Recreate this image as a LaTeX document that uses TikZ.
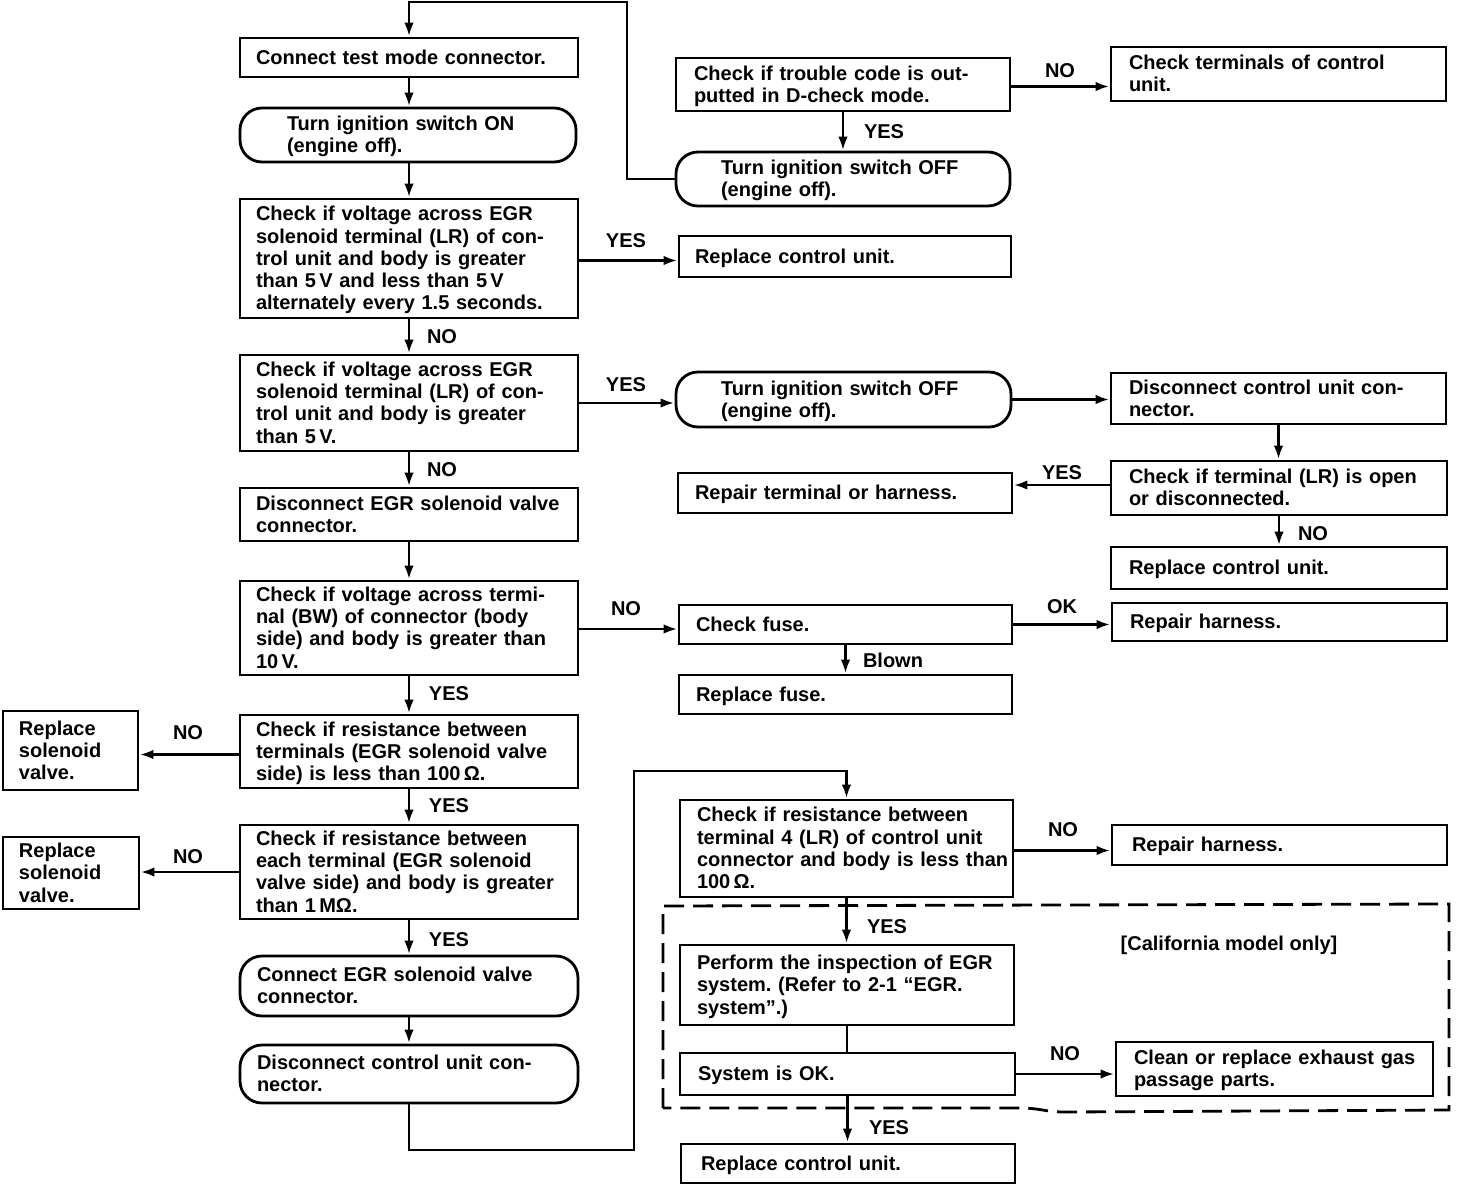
\documentclass[tikz,border=0pt]{standalone}
\usepackage{fontspec}
\setmainfont{Liberation Sans}
\usetikzlibrary{arrows.meta}
\newcommand\boxlines[1]{\begin{tabular}{@{}l@{}}\rule{0pt}{20.3pt}#1\end{tabular}}
% #1 style, #2 name, #3 x1, #4 y1, #5 x2, #6 y2, #7 inset, #8 text
\newcommand\mkbox[8][box]{%
  \pgfmathsetmacro\mkbw{#5-#3}%
  \pgfmathsetmacro\mkbh{#6-#4}%
  \pgfmathsetmacro\mktw{#5-#3-2*#7}%
  \pgfmathsetmacro\mkcx{(#3+#5)/2}%
  \pgfmathsetmacro\mkcy{(#4+#6)/2}%
  \node[#1, minimum width=\mkbw pt, minimum height=\mkbh pt, text width=\mktw pt] (#2) at (\mkcx,\mkcy) {\boxlines{#8}};%
}
\tikzset{
  txt/.style={font=\fontsize{20}{22.3}\selectfont\bfseries},
  box/.style={txt, draw, line width=2.8pt, rectangle, inner sep=0pt, align=left},
  rbox/.style={box, rounded corners=22pt},
  arr/.style={line width=2.8pt, -{Latex[length=14pt,width=9.5pt]}},
  ln/.style={line width=2.8pt},
  lbl/.style={txt, inner sep=0pt},
  dsh/.style={line width=2.8pt, dash pattern=on 20pt off 9pt},
}
\begin{document}
\begin{tikzpicture}[x=1pt,y=-1pt]
\path[fill=white, use as bounding box] (0,0) rectangle (1472,1188);

% left column
\mkbox{b1}{240}{38}{578}{77}{16}{Connect test mode connector.}
\mkbox[rbox]{b2}{240}{108}{576}{162}{47}{Turn ignition switch ON\\(engine off).}
\mkbox{b3}{240}{199}{578}{318}{16}{Check if voltage across EGR\\solenoid terminal (LR) of con-\\trol unit and body is greater\\than 5\,V and less than 5\,V\\alternately every 1.5 seconds.}
\mkbox{b4}{240}{355}{578}{451}{16}{Check if voltage across EGR\\solenoid terminal (LR) of con-\\trol unit and body is greater\\than 5\,V.}
\mkbox{b5}{240}{488}{578}{541}{16}{Disconnect EGR solenoid valve\\connector.}
\mkbox{b6}{240}{581}{578}{675}{16}{Check if voltage across termi-\\nal (BW) of connector (body\\side) and body is greater than\\10\,V.}
\mkbox{b7}{240}{715}{578}{788}{16}{Check if resistance between\\terminals (EGR solenoid valve\\side) is less than 100\,Ω.}
\mkbox{b8}{240}{825}{578}{919}{16}{Check if resistance between\\each terminal (EGR solenoid\\valve side) and body is greater\\than 1\,MΩ.}
\mkbox[rbox]{b9}{240}{956}{578}{1016}{17}{Connect EGR solenoid valve\\connector.}
\mkbox[rbox]{b10}{240}{1045}{578}{1103}{17}{Disconnect control unit con-\\nector.}
\mkbox{r1}{3}{711}{138}{790}{16}{Replace\\solenoid\\valve.}
\mkbox{r2}{3}{837}{139}{909}{16}{Replace\\solenoid\\valve.}

% right area
\mkbox{t1}{676}{58}{1010}{111}{18}{Check if trouble code is out-\\putted in D-check mode.}
\mkbox{t2}{1111}{47}{1446}{101}{18}{Check terminals of control\\unit.}
\mkbox[rbox]{t3}{676}{152}{1010}{206}{45}{Turn ignition switch OFF\\(engine off).}
\mkbox{r3}{679}{236}{1011}{277}{16}{Replace control unit.}
\mkbox[rbox]{t4}{676}{372}{1011}{427}{45}{Turn ignition switch OFF\\(engine off).}
\mkbox{t5}{1111}{373}{1446}{424}{18}{Disconnect control unit con-\\nector.}
\mkbox{t6}{1111}{461}{1447}{515}{18}{Check if terminal (LR) is open\\or disconnected.}
\mkbox{rt}{678}{473}{1012}{513}{17}{Repair terminal or harness.}
\mkbox{rcu2}{1111}{547}{1447}{589}{18}{Replace control unit.}
\mkbox{cf}{679}{605}{1012}{644}{17}{Check fuse.}
\mkbox{rh1}{1112}{603}{1447}{641}{18}{Repair harness.}
\mkbox{rf}{679}{675}{1012}{714}{17}{Replace fuse.}
\mkbox{c1}{680}{800}{1013}{897}{17}{Check if resistance between\\terminal 4 (LR) of control unit\\connector and body is less than\\100\,Ω.}
\mkbox{rh2}{1112}{825}{1447}{865}{20}{Repair harness.}
\mkbox{c2}{680}{945}{1014}{1025}{17}{Perform the inspection of EGR\\system.\ (Refer to 2-1 “EGR.\\system”.)}
\mkbox{c3}{680}{1053}{1015}{1095}{18}{System is OK.}
\mkbox{cl}{1116}{1042}{1433}{1096}{18}{Clean or replace exhaust gas\\passage parts.}
\mkbox{rcu3}{681}{1144}{1015}{1183}{20}{Replace control unit.}

% dashed region
\draw[dsh] (663,1108) -- (663,906) -- (1449,904) -- (1449,1110) -- (1065,1112)
  .. controls (1045,1112) and (1040,1108) .. (1020,1108) -- cycle;
\node[lbl] (calif) at (1229,945) {[California model only]};

% loop coordinates
\coordinate (lpa) at (627,2);
\coordinate (lpb) at (634,1150);
\coordinate (lpc) at (634,771);

% left column connectors
\draw[arr] (t3.west) -| (lpa) -| (b1.north);
\draw[arr] (b1.south) -- (b1.south |- b2.north);
\draw[arr] (b2.south -| b1.south) -- (b3.north);
\draw[arr] (b3.south) -- (b4.north);
\draw[arr] (b4.south) -- (b5.north);
\draw[arr] (b5.south) -- (b6.north);
\draw[arr] (b6.south) -- (b7.north);
\draw[arr] (b7.south) -- (b8.north);
\draw[arr] (b8.south) -- (b9.north);
\draw[arr] (b9.south) -- (b10.north);
\draw[arr] ([yshift=-3pt]b7.west) -- ([yshift=-3pt]b7.west -| r1.east);
\draw[arr] (b8.west) -- (b8.west -| r2.east);
\draw[arr] (b10.south) |- (lpb) -- (lpc) -| (c1.north);

% right connectors
\draw[arr] ([yshift=-2pt]t1.east) -- ([yshift=-2pt]t1.east -| t2.west);
\draw[arr] (t1.south) -- (t1.south |- t3.north);
\draw[arr] ([yshift=-2pt]b3.east) -- ([yshift=-2pt]b3.east -| r3.west);
\draw[arr] (b4.east) -- (b4.east -| t4.west);
\draw[arr] (t4.east) -- (t4.east -| t5.west);
\draw[arr] (t5.south) -- (t5.south |- t6.north);
\draw[arr] ([yshift=3pt]t6.west) -- ([yshift=3pt]t6.west -| rt.east);
\draw[arr] (t6.south) -- (t6.south |- rcu2.north);
\draw[arr] ([yshift=-1pt]b6.east) -- ([yshift=-1pt]b6.east -| cf.west);
\draw[arr] (cf.east) -- (cf.east -| rh1.west);
\draw[arr] (cf.south) -- (cf.south |- rf.north);
\draw[arr] ([yshift=-2pt]c1.east) -- ([yshift=-2pt]c1.east -| rh2.west);
\draw[arr] (c1.south) -- (c1.south |- c2.north);
\draw[ln] (c2.south) -- (c2.south |- c3.north);
\draw[arr] (c3.east) -- (c3.east -| cl.west);
\draw[arr] (c3.south) -- (c3.south |- rcu3.north);

% labels
\node[lbl] (l1) at (1060,71) {NO};
\node[lbl] (l2) at (884,132) {YES};
\node[lbl] (l3) at (626,241) {YES};
\node[lbl] (l4) at (442,337) {NO};
\node[lbl] (l5) at (626,385) {YES};
\node[lbl] (l6) at (442,470) {NO};
\node[lbl] (l7) at (1062,473) {YES};
\node[lbl] (l8) at (1313,534) {NO};
\node[lbl] (l9) at (626,609) {NO};
\node[lbl] (l10) at (1062,607) {OK};
\node[lbl] (l11) at (893,660) {Blown};
\node[lbl] (l12) at (449,694) {YES};
\node[lbl] (l13) at (188,733) {NO};
\node[lbl] (l14) at (449,806) {YES};
\node[lbl] (l15) at (188,857) {NO};
\node[lbl] (l16) at (449,940) {YES};
\node[lbl] (l17) at (1063,830) {NO};
\node[lbl] (l18) at (887,927) {YES};
\node[lbl] (l19) at (1065,1054) {NO};
\node[lbl] (l20) at (889,1128) {YES};
\end{tikzpicture}
\end{document}
